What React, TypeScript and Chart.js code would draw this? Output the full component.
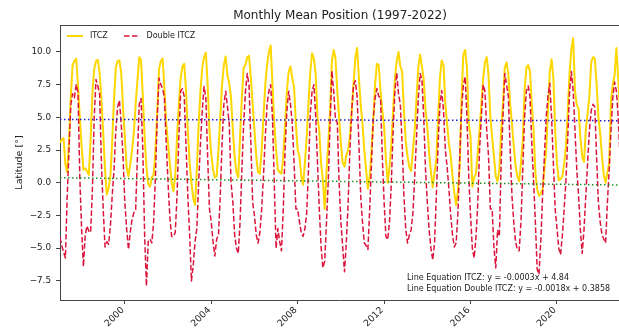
import React, { useEffect, useRef } from 'react';
import { Chart, registerables } from 'chart.js';

Chart.register(...registerables);

// ---------- data ----------
const startYear = 1997; // first month = January 1997, monthly steps
const seriesLabels = ['ITCZ', 'Double ITCZ'];

// ITCZ monthly mean latitude (Jan..Dec per row)
const itcz = [
  3.05, 3.3, 3.4, 1.4, 0.8, 3.2, 6.6, 9.0, 9.3, 9.5, 7.4, 5.0, // 1997
  2.8, 1.0, 1.1, 0.9, 0.6, 3.3, 6.8, 8.7, 9.3, 9.4, 8.4, 6.4, // 1998
  3.8, 1.0, -0.9, -0.4, 0.5, 3.2, 6.4, 8.8, 9.3, 9.35, 8.4, 5.8, // 1999
  3.5, 1.2, 0.5, 1.4, 2.5, 3.8, 6.0, 7.8, 9.6, 9.4, 6.6, 3.5, // 2000
  1.2, -0.1, -0.3, 0.4, 0.6, 2.5, 5.5, 8.7, 9.3, 9.5, 7.2, 4.5, // 2001
  3.0, 1.5, 0.0, -0.65, 0.5, 3.5, 6.0, 8.0, 8.9, 9.1, 7.0, 4.0, // 2002
  1.5, 0.0, -1.2, -1.7, 1.0, 4.5, 7.0, 8.8, 9.6, 9.95, 7.5, 4.0, // 2003
  2.2, 1.0, 0.4, 0.5, 2.5, 5.0, 7.5, 9.0, 9.65, 8.2, 7.6, 6.5, // 2004
  4.0, 2.0, 0.8, 0.4, 3.5, 6.5, 8.8, 9.0, 9.6, 9.7, 8.0, 6.0, // 2005
  4.0, 2.0, 0.8, 0.7, 2.5, 5.0, 7.5, 9.0, 10.0, 10.5, 7.5, 4.5, // 2006
  2.5, 1.0, 0.8, 0.7, 2.0, 4.5, 7.0, 8.5, 8.9, 8.0, 7.3, 4.5, // 2007
  2.5, 2.0, 0.5, -0.15, 1.5, 3.5, 6.0, 8.5, 9.9, 9.5, 8.3, 5.0, // 2008
  4.0, 1.5, 0.2, -2.0, 0.8, 3.0, 5.5, 9.3, 10.15, 9.5, 7.0, 5.0, // 2009
  3.0, 1.5, 1.24, 2.1, 2.5, 3.5, 5.5, 7.5, 9.5, 10.3, 8.0, 6.0, // 2010
  4.5, 2.5, 1.0, -0.45, 0.5, 2.5, 4.8, 7.5, 9.1, 9.0, 7.0, 5.5, // 2011
  4.3, 1.8, 0.0, 1.2, 3.0, 5.5, 8.0, 9.3, 10.0, 8.9, 8.5, 5.5, // 2012
  3.2, 2.0, 1.2, 0.9, 2.5, 4.0, 6.5, 8.8, 9.8, 8.9, 7.9, 5.6, // 2013
  4.2, 2.3, 0.8, -0.35, 0.8, 1.8, 5.0, 8.0, 9.35, 9.0, 6.0, 4.5, // 2014
  3.0, 2.0, 0.5, -0.8, -1.7, -0.6, 1.3, 6.5, 9.8, 10.15, 8.8, 4.5, // 2015
  3.5, -0.3, 0.4, 0.7, 2.3, 4.0, 6.0, 8.0, 9.2, 9.6, 8.2, 5.0, // 2016
  3.5, 2.0, 0.5, 0.1, 1.0, 4.0, 6.0, 8.8, 9.2, 8.3, 6.0, 4.5, // 2017
  2.8, 1.3, 0.5, 0.1, 1.5, 3.3, 7.0, 8.8, 9.0, 8.5, 6.0, 4.0, // 2018
  0.8, -0.5, -1.0, -0.8, -0.5, 1.0, 2.5, 5.5, 8.5, 9.45, 8.0, 4.0, // 2019
  1.5, 0.2, 0.3, 0.5, 1.5, 2.8, 5.5, 8.4, 10.2, 11.05, 7.0, 6.0, // 2020
  5.6, 3.5, 2.0, 1.6, 4.0, 5.3, 6.6, 9.2, 9.6, 9.5, 7.6, 5.0, // 2021
  3.8, 2.0, 0.6, 0.0, 0.8, 1.5, 6.3, 7.5, 8.2, 10.3, 8.0, 5.5, // 2022
];

// Double ITCZ monthly mean latitude (Jan..Dec per row)
const doubleItcz = [
  -4.2, -4.8, -5.3, -5.75, -1.0, 2.5, 6.0, 6.8, 6.5, 7.5, 6.9, 0.4, // 1997
  -3.5, -6.4, -4.0, -3.3, -3.7, -3.8, -0.5, 5.0, 7.9, 7.4, 6.8, 1.5, // 1998
  -2.0, -4.9, -4.5, -4.7, -3.3, -1.0, 1.0, 4.0, 5.8, 6.3, 4.5, 2.0, // 1999
  -1.5, -3.5, -5.1, -3.8, -2.8, -2.3, -2.1, 2.0, 6.0, 6.45, 2.5, -4.0, // 2000
  -7.9, -4.5, -4.3, -4.6, -3.0, 0.5, 5.0, 8.0, 7.5, 7.2, 6.5, 3.0, // 2001
  0.0, -2.6, -4.1, -4.1, -3.8, -1.0, 3.5, 7.0, 7.2, 6.6, 2.8, -1.0, // 2002
  -4.0, -7.5, -6.3, -4.5, -3.5, 0.0, 3.0, 5.5, 7.35, 6.5, 2.0, -2.0, // 2003
  -3.0, -4.5, -5.6, -4.3, -4.0, -1.0, 3.0, 6.0, 7.0, 5.8, 4.5, 0.0, // 2004
  -1.5, -4.0, -5.0, -5.4, -3.0, 1.0, 4.5, 7.0, 8.35, 7.4, 3.0, -1.5, // 2005
  -2.5, -4.0, -4.6, -3.8, -2.0, 0.5, 3.5, 6.0, 7.0, 7.5, 5.0, 0.0, // 2006
  -5.0, -3.5, -4.5, -5.2, -2.0, 2.5, 5.5, 7.0, 6.0, 4.5, 1.5, -2.0, // 2007
  -2.0, -3.0, -3.8, -4.1, -3.5, -2.3, 1.0, 5.3, 7.0, 7.5, 5.1, 1.5, // 2008
  -2.0, -4.9, -6.5, -6.0, -3.0, 0.2, 4.5, 8.55, 7.0, 4.8, 4.6, 0.0, // 2009
  -3.0, -4.9, -6.8, -4.6, -1.6, 2.5, 5.5, 7.5, 7.8, 6.6, 3.0, -1.0, // 2010
  -3.0, -4.6, -4.8, -5.1, -2.0, 1.5, 5.0, 6.5, 7.2, 6.6, 6.5, 2.0, // 2011
  -1.5, -4.1, -4.35, -3.0, 0.0, 4.0, 7.0, 8.4, 6.8, 6.0, 3.0, -1.0, // 2012
  -3.5, -4.6, -4.0, -3.6, -2.3, 0.5, 3.5, 6.5, 8.35, 7.9, 5.0, 1.0, // 2013
  -1.5, -3.6, -5.0, -5.9, -4.6, -1.0, 3.0, 6.0, 7.05, 5.5, 2.5, 1.2, // 2014
  -0.5, -2.5, -4.0, -4.9, -4.6, -2.3, 2.0, 5.5, 7.5, 8.1, 5.0, 0.5, // 2015
  -2.5, -5.0, -5.75, -4.2, -1.6, 2.5, 5.0, 7.5, 7.0, 4.0, 2.0, -2.0, // 2016
  -2.0, -5.0, -6.5, -3.6, -4.1, 1.5, 5.0, 8.35, 7.5, 6.6, 2.5, -1.0, // 2017
  -3.0, -4.5, -5.1, -5.2, -3.0, 1.0, 5.0, 7.0, 7.4, 6.6, 3.0, 0.2, // 2018
  -3.0, -6.6, -7.0, -4.5, -1.0, 2.0, 5.0, 6.6, 7.6, 5.0, 1.5, -2.0, // 2019
  -3.5, -5.0, -5.5, -4.0, -2.0, 0.2, 3.5, 7.0, 8.5, 7.0, 4.0, 1.0, // 2020
  -1.0, -3.6, -5.4, -3.6, -1.0, 1.5, 4.0, 5.5, 6.0, 5.8, 2.0, -1.5, // 2021
  -3.0, -4.0, -4.3, -4.6, -1.5, 1.0, 4.0, 6.5, 7.7, 7.0, 5.0, 2.0, // 2022
];

// Linear trends (x = month index)
const trendItcz = { slope: -0.0003, intercept: 4.84 };
const trendDouble = { slope: -0.0018, intercept: 0.3858 };

const xTickYears = [2000, 2004, 2008, 2012, 2016, 2020];
const yTickValues = [-7.5, -5, -2.5, 0, 2.5, 5, 7.5, 10];

const titleText = 'Monthly Mean Position (1997-2022)';
const yAxisLabel = 'Latitude [°]';
const equationLines = [
  'Line Equation ITCZ: y = -0.0003x + 4.84',
  'Line Equation Double ITCZ: y = -0.0018x + 0.3858',
];

// ---------- styling / layout ----------
const YELLOW = '#FFD700';
const RED = '#DC143C';
const BLUE = '#1f1fd0';
const GREEN = '#1f8f1f';
const AXIS = '#444';
const TEXT = '#222';
const FONT = '"DejaVu Sans", Verdana, sans-serif';
const Y_MIN = -8.96;
const Y_MAX = 12.06;
const X_TICK_FONT = 9.2;
const Y_TICK_FONT = 8.8;

const toPoints = (arr: number[]) => arr.map((v, i) => ({ x: startYear + i / 12, y: v }));
const trendPoints = (t: { slope: number; intercept: number }, n: number) => [
  { x: startYear, y: t.intercept },
  { x: startYear + (n - 1) / 12, y: t.intercept + t.slope * (n - 1) },
];

const decorPlugin = {
  id: 'decor',
  afterDraw(chart: any) {
    const { ctx, chartArea } = chart;
    const { left, right, top, bottom } = chartArea;
    ctx.save();
    // top / right frame
    ctx.strokeStyle = AXIS;
    ctx.lineWidth = 1;
    ctx.beginPath();
    ctx.moveTo(left, top + 0.5);
    ctx.lineTo(right, top + 0.5);
    ctx.moveTo(right - 0.5, top);
    ctx.lineTo(right - 0.5, bottom);
    ctx.stroke();

    // title
    ctx.fillStyle = TEXT;
    ctx.font = `12px ${FONT}`;
    ctx.textAlign = 'center';
    ctx.textBaseline = 'middle';
    ctx.fillText(titleText, (left + right) / 2, 16);

    // y axis label
    ctx.save();
    ctx.translate(20, (top + bottom) / 2);
    ctx.rotate(-Math.PI / 2);
    ctx.font = `9.5px ${FONT}`;
    ctx.textAlign = 'center';
    ctx.textBaseline = 'middle';
    ctx.fillText(yAxisLabel, 0, 0);
    ctx.restore();

    // x tick labels, rotated 45°, right/top aligned at the tick
    const xs = chart.scales.x;
    ctx.font = `${X_TICK_FONT}px ${FONT}`;
    xTickYears.forEach((yr) => {
      const px = xs.getPixelForValue(yr);
      ctx.save();
      ctx.translate(px - 0.707 * X_TICK_FONT * 0.95 + 1, bottom + 5.5);
      ctx.rotate(-Math.PI / 4);
      ctx.textAlign = 'right';
      ctx.textBaseline = 'top';
      ctx.fillText(String(yr), 0, 0);
      ctx.restore();
    });

    // legend
    const ly = 36;
    ctx.lineWidth = 2;
    ctx.strokeStyle = YELLOW;
    ctx.setLineDash([]);
    ctx.beginPath();
    ctx.moveTo(67, ly);
    ctx.lineTo(83, ly);
    ctx.stroke();
    ctx.lineWidth = 1.5;
    ctx.strokeStyle = RED;
    ctx.setLineDash([5.5, 2.4]);
    ctx.beginPath();
    ctx.moveTo(124, ly);
    ctx.lineTo(140, ly);
    ctx.stroke();
    ctx.setLineDash([]);
    ctx.font = `8px ${FONT}`;
    ctx.textAlign = 'left';
    ctx.textBaseline = 'middle';
    ctx.fillStyle = TEXT;
    ctx.fillText(seriesLabels[0], 90, ly);
    ctx.fillText(seriesLabels[1], 146.5, ly);

    // equations
    ctx.fillText(equationLines[0], 407, 277.5);
    ctx.fillText(equationLines[1], 407, 288.5);
    ctx.restore();
  },
};

export default function App() {
  const canvasRef = useRef<HTMLCanvasElement | null>(null);

  useEffect(() => {
    document.documentElement.style.overflow = 'hidden';
    document.body.style.overflow = 'hidden';
    const canvas = canvasRef.current;
    if (!canvas) return;
    const n = itcz.length;
    const chart = new Chart(canvas, {
      type: 'line',
      data: {
        datasets: [
          {
            label: 'ITCZ trend',
            data: trendPoints(trendItcz, n),
            borderColor: BLUE,
            borderWidth: 1.5,
            borderDash: [1.5, 2.5],
            pointRadius: 0,
            fill: false,
          },
          {
            label: 'Double ITCZ trend',
            data: trendPoints(trendDouble, n),
            borderColor: GREEN,
            borderWidth: 1.5,
            borderDash: [1.5, 2.5],
            pointRadius: 0,
            fill: false,
          },
          {
            label: seriesLabels[1],
            data: toPoints(doubleItcz),
            borderColor: RED,
            borderWidth: 1.5,
            borderDash: [5.5, 2.4],
            borderCapStyle: 'butt',
            borderJoinStyle: 'round',
            pointRadius: 0,
            tension: 0,
            fill: false,
          },
          {
            label: seriesLabels[0],
            data: toPoints(itcz),
            borderColor: YELLOW,
            borderWidth: 2,
            borderJoinStyle: 'round',
            pointRadius: 0,
            tension: 0,
            fill: false,
          },
        ],
      },
      options: {
        animation: false,
        responsive: false,
        devicePixelRatio: 1,
        events: [],
        layout: { padding: { top: 25, right: 2, left: 0, bottom: 0 } },
        plugins: {
          legend: { display: false },
          tooltip: { enabled: false },
          title: { display: false },
        },
        scales: {
          x: {
            type: 'linear',
            min: startYear,
            max: startYear + (n - 1) / 12,
            afterBuildTicks: (s: any) => {
              s.ticks = xTickYears.map((v) => ({ value: v }));
            },
            afterFit: (s: any) => {
              s.height = 33;
            },
            ticks: {
              autoSkip: false,
              minRotation: 45,
              maxRotation: 45,
              padding: 1,
              color: 'rgba(0,0,0,0)',
              font: { family: FONT, size: X_TICK_FONT },
              callback: (v: any) => String(v),
            },
            grid: {
              display: true,
              drawOnChartArea: false,
              drawTicks: true,
              tickLength: 4,
              tickColor: AXIS,
            },
            border: { display: true, color: AXIS, width: 1 },
          },
          y: {
            type: 'linear',
            min: Y_MIN,
            max: Y_MAX,
            afterBuildTicks: (s: any) => {
              s.ticks = yTickValues.map((v) => ({ value: v }));
            },
            afterFit: (s: any) => {
              s.width = 60;
            },
            ticks: {
              padding: 5,
              color: TEXT,
              font: { family: FONT, size: Y_TICK_FONT },
              callback: (v: any) => (v < 0 ? '\u2212' : '') + Math.abs(Number(v)).toFixed(1),
            },
            grid: {
              display: true,
              drawOnChartArea: false,
              drawTicks: true,
              tickLength: 4,
              tickColor: AXIS,
            },
            border: { display: true, color: AXIS, width: 1 },
          },
        },
      },
      plugins: [decorPlugin],
    } as any);
    return () => chart.destroy();
  }, []);

  return (
    <div style={{ position: 'fixed', left: 0, top: 0, width: 622, height: 333, background: '#fff' }}>
      <canvas ref={canvasRef} width={622} height={333} style={{ display: 'block' }} />
    </div>
  );
}
